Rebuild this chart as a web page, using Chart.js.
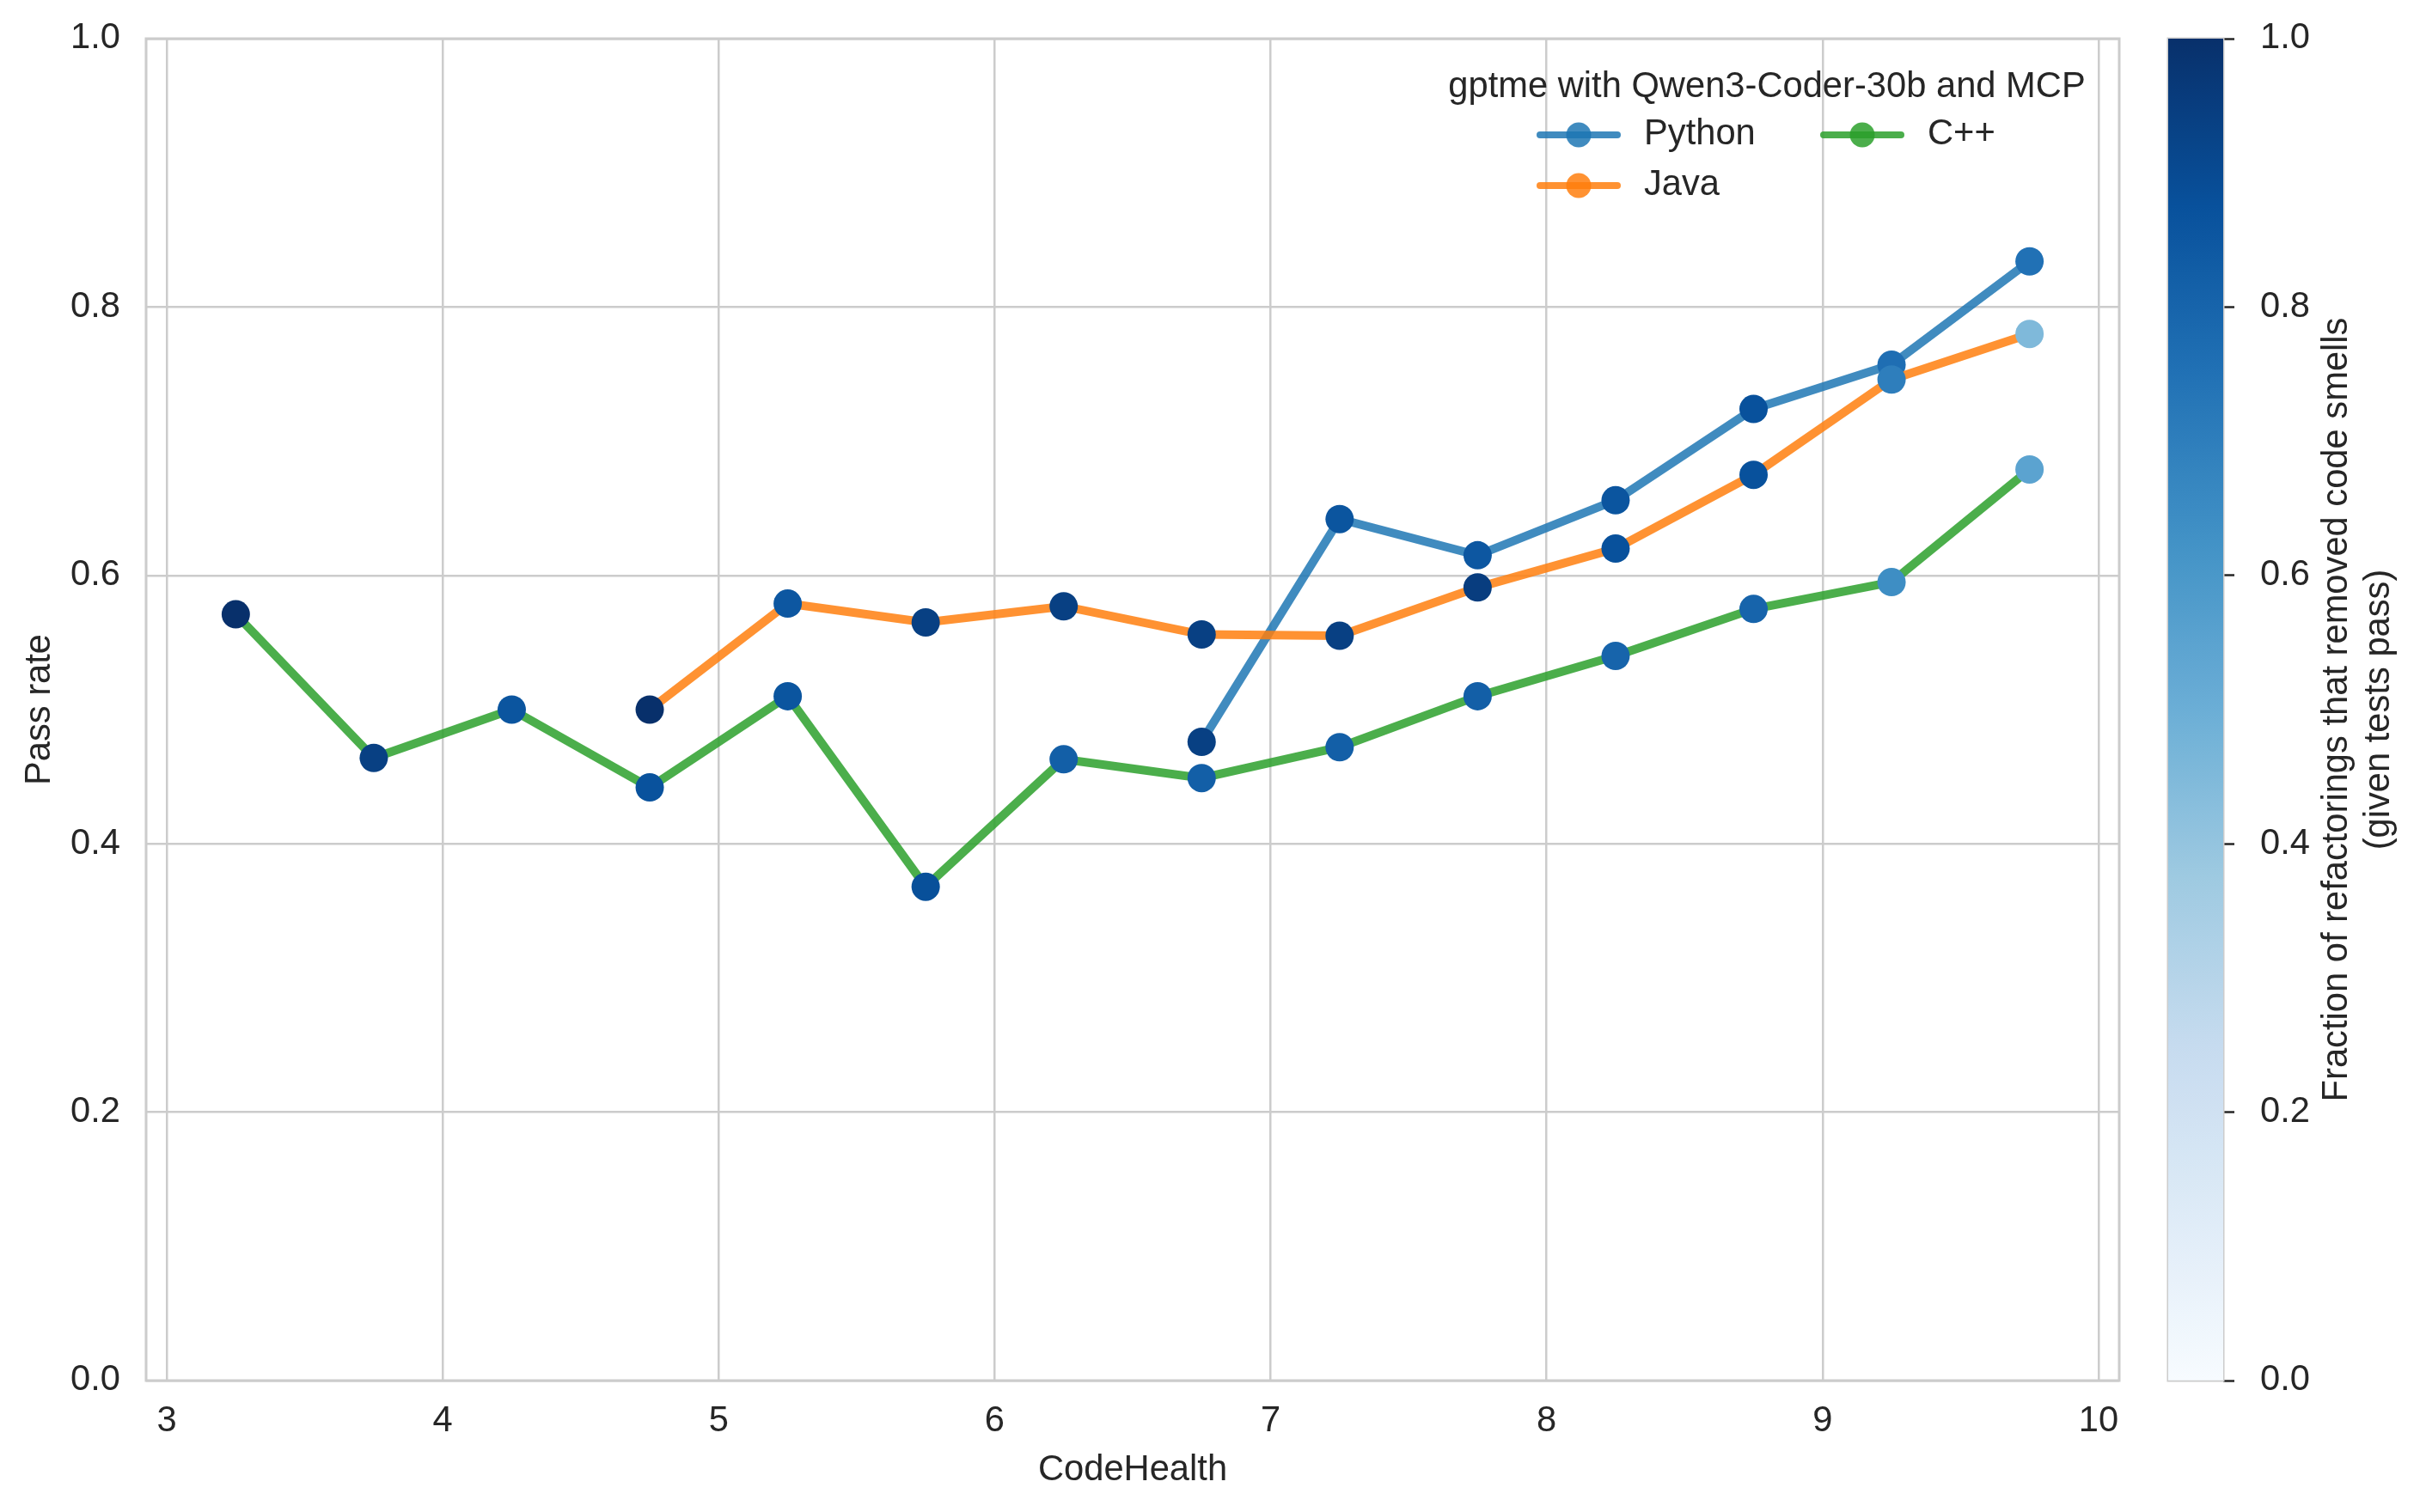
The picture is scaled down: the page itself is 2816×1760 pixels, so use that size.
<!DOCTYPE html>
<html>
<head>
<meta charset="utf-8">
<script src="https://cdn.jsdelivr.net/npm/chart.js@4.4.1/dist/chart.umd.min.js"></script>
<style>
  html, body { margin: 0; padding: 0; background: #fff; }
  #wrap { position: relative; width: 2816px; height: 1760px; }
  canvas { position: absolute; top: 0; }
  #main { left: 0; }
  #cbar { left: 2500px; }
</style>
</head>
<body>
<div id="wrap">
  <canvas id="main" width="2500" height="1760"></canvas>
  <canvas id="cbar" width="316" height="1760"></canvas>
</div>
<script>
// values
const pythonX = [6.75, 7.25, 7.75, 8.25, 8.75, 9.25, 9.75];
const pythonRate = [0.476, 0.642, 0.615, 0.656, 0.724, 0.757, 0.834];
const pythonFrac = [0.94, 0.86, 0.85, 0.86, 0.875, 0.76, 0.75];

const javaX = [4.75, 5.25, 5.75, 6.25, 6.75, 7.25, 7.75, 8.25, 8.75, 9.25, 9.75];
const javaRate = [0.500, 0.579, 0.565, 0.577, 0.556, 0.555, 0.591, 0.620, 0.675, 0.746, 0.780];
const javaFrac = [1.0, 0.85, 0.94, 0.94, 0.94, 0.94, 0.95, 0.875, 0.875, 0.70, 0.45];

const cppX = [3.25, 3.75, 4.25, 4.75, 5.25, 5.75, 6.25, 6.75, 7.25, 7.75, 8.25, 8.75, 9.25, 9.75];
const cppRate = [0.571, 0.464, 0.500, 0.442, 0.510, 0.368, 0.463, 0.449, 0.472, 0.510, 0.540, 0.575, 0.595, 0.679];
const cppFrac = [1.0, 0.94, 0.86, 0.87, 0.86, 0.88, 0.82, 0.82, 0.82, 0.82, 0.80, 0.80, 0.64, 0.55];

const xTicks = [3, 4, 5, 6, 7, 8, 9, 10];
const yTicks = [0, 0.2, 0.4, 0.6, 0.8, 1.0];
const cbarTicks = [0, 0.2, 0.4, 0.6, 0.8, 1.0];

const legendTitle = 'gptme with Qwen3-Coder-30b and MCP';
const legendOrder = ['Python', 'Java', 'C++'];
const cbarTitle = ['Fraction of refactorings that removed code smells', '(given tests pass)'];

const family = '"Liberation Sans", Arial, Helvetica, sans-serif';
const textColor = '#262626';
const gridColor = '#cccccc';
const fontSize = 41.7;

// matplotlib "Blues"
const bluesStops = [
  [247, 251, 255], [222, 235, 247], [198, 219, 239], [158, 202, 225], [107, 174, 214],
  [66, 146, 198], [33, 113, 181], [8, 81, 156], [8, 48, 107]
];
function blues(v) {
  const t = Math.max(0, Math.min(1, v)) * (bluesStops.length - 1);
  const i = Math.min(Math.floor(t), bluesStops.length - 2);
  const f = t - i;
  const c = bluesStops[i].map((a, k) => Math.round(a + (bluesStops[i + 1][k] - a) * f));
  return `rgb(${c[0]},${c[1]},${c[2]})`;
}

// drawn first = listed last, so C++ ends on top
const series = [
  {label: 'C++', xs: cppX, ys: cppRate, fr: cppFrac, color: 'rgba(44,160,44,0.85)'},
  {label: 'Java', xs: javaX, ys: javaRate, fr: javaFrac, color: 'rgba(255,127,14,0.85)'},
  {label: 'Python', xs: pythonX, ys: pythonRate, fr: pythonFrac, color: 'rgba(31,119,180,0.85)'}
];

const framePlugin = {
  id: 'frame',
  beforeDatasetsDraw(chart) {
    const {ctx, chartArea: a} = chart;
    ctx.save();
    ctx.strokeStyle = gridColor;
    ctx.lineWidth = 3;
    ctx.strokeRect(a.left, a.top, a.right - a.left, a.bottom - a.top);
    ctx.restore();
  }
};

const legendPlugin = {
  id: 'cornerLegend',
  afterDraw(chart) {
    const {ctx, chartArea: a} = chart;
    ctx.save();
    ctx.font = `${fontSize}px ${family}`;
    ctx.fillStyle = textColor;
    ctx.textBaseline = 'middle';
    ctx.textAlign = 'center';
    ctx.fillText(legendTitle, a.right - 410, a.top + 57);
    ctx.textAlign = 'left';
    legendOrder.forEach((name, i) => {
      const s = series.find(d => d.label === name);
      const x0 = a.right - 674 + Math.floor(i / 2) * 330;
      const y0 = a.top + 112 + (i % 2) * 59;
      ctx.strokeStyle = s.color;
      ctx.lineWidth = 8;
      ctx.lineCap = 'round';
      ctx.beginPath();
      ctx.moveTo(x0, y0);
      ctx.lineTo(x0 + 90, y0);
      ctx.stroke();
      ctx.fillStyle = s.color;
      ctx.beginPath();
      ctx.arc(x0 + 45, y0, 14.5, 0, Math.PI * 2);
      ctx.fill();
      ctx.fillStyle = textColor;
      ctx.fillText(name, x0 + 121, y0);
    });
    ctx.restore();
  }
};

const cbarTitlePlugin = {
  id: 'cbarTitle',
  afterDraw(chart) {
    const {ctx, chartArea: a} = chart;
    ctx.save();
    ctx.font = `${fontSize}px ${family}`;
    ctx.fillStyle = textColor;
    ctx.textAlign = 'center';
    ctx.textBaseline = 'middle';
    cbarTitle.forEach((line, i) => {
      ctx.save();
      ctx.translate(a.right + 133 + i * 49, (a.top + a.bottom) / 2);
      ctx.rotate(-Math.PI / 2);
      ctx.fillText(line, 0, 0);
      ctx.restore();
    });
    ctx.restore();
  }
};

const tickFont = {family: family, size: fontSize};

// keep the tick label overhang from pushing the plot area down
function fixVertical(width) {
  return s => { s.width = width; s.paddingTop = 0; s.paddingBottom = 0; };
}

new Chart(document.getElementById('main'), {
  type: 'line',
  data: {
    datasets: series.map(s => ({
      label: s.label,
      data: s.xs.map((x, i) => ({x: x, y: s.ys[i]})),
      borderColor: s.color,
      borderWidth: 10,
      tension: 0,
      fill: false,
      pointRadius: 16.5,
      pointHoverRadius: 16.5,
      pointBorderWidth: 0,
      pointBackgroundColor: s.fr.map(blues)
    }))
  },
  options: {
    responsive: false,
    animation: false,
    layout: {padding: {top: 45, right: 34, left: 0, bottom: 0}},
    plugins: {legend: {display: false}, tooltip: {enabled: false}},
    scales: {
      x: {
        type: 'linear',
        min: 2.925,
        max: 10.075,
        afterBuildTicks: s => { s.ticks = xTicks.map(v => ({value: v})); },
        afterFit: s => { s.height = 153; },
        grid: {color: gridColor, lineWidth: 2.5, drawTicks: false},
        border: {display: false},
        ticks: {padding: 22, color: textColor, font: tickFont, autoSkip: false, maxRotation: 0,
                callback: v => String(v)},
        title: {display: true, text: 'CodeHealth', color: textColor, font: tickFont,
                padding: {top: 0, bottom: 23}}
      },
      y: {
        type: 'linear',
        min: 0,
        max: 1,
        afterBuildTicks: s => { s.ticks = yTicks.map(v => ({value: v})); },
        afterFit: fixVertical(170),
        grid: {color: gridColor, lineWidth: 2.5, drawTicks: false},
        border: {display: false},
        ticks: {padding: 30, color: textColor, font: tickFont, callback: v => v.toFixed(1)},
        title: {display: true, text: 'Pass rate', color: textColor, font: tickFont,
                padding: {top: 21, bottom: 0}}
      }
    }
  },
  plugins: [framePlugin, legendPlugin]
});

function cbarGradient(chart) {
  const a = chart.chartArea;
  if (!a) return blues(0.5);
  const g = chart.ctx.createLinearGradient(0, a.bottom, 0, a.top);
  for (let i = 0; i <= 40; i++) g.addColorStop(i / 40, blues(i / 40));
  return g;
}

new Chart(document.getElementById('cbar'), {
  type: 'bar',
  data: {
    labels: [''],
    datasets: [{
      data: [[0, 1]],
      backgroundColor: c => cbarGradient(c.chart),
      borderWidth: 0,
      barPercentage: 1,
      categoryPercentage: 1
    }]
  },
  options: {
    responsive: false,
    animation: false,
    layout: {padding: {left: 23, top: 45, bottom: 153, right: 0}},
    plugins: {legend: {display: false}, tooltip: {enabled: false}},
    scales: {
      x: {display: false},
      y: {
        position: 'right',
        min: 0,
        max: 1,
        afterBuildTicks: s => { s.ticks = cbarTicks.map(v => ({value: v})); },
        afterFit: fixVertical(229),
        grid: {drawOnChartArea: false, drawTicks: true, tickLength: 13, tickColor: textColor, tickWidth: 2.5},
        border: {display: false},
        ticks: {padding: 30, color: textColor, font: tickFont, callback: v => v.toFixed(1)}
      }
    }
  },
  plugins: [framePlugin, cbarTitlePlugin]
});
</script>
</body>
</html>
